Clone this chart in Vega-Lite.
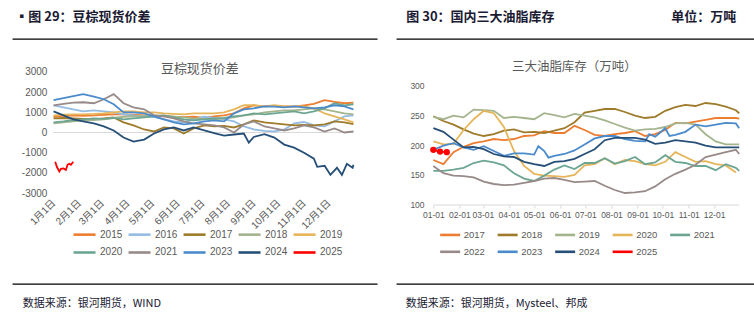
{
"$schema":"https://vega.github.io/schema/vega-lite/v6.json",
"padding":{"left":11.35,"top":10,"right":0,"bottom":0},
"bounds":"flush",
"spacing":19,
"resolve":{"scale":{"color":"independent","x":"independent","y":"independent"},"legend":{"color":"independent"}},
"config":{"font":"Liberation Sans, Noto Sans CJK SC","axis":{"grid":false,"labelOverlap":false}},
"datasets":{
"left":[
{"s":"2015","t":"2023-01-01","v":780},{"s":"2015","t":"2023-01-13","v":820},{"s":"2015","t":"2023-01-25","v":850},{"s":"2015","t":"2023-02-06","v":830},{"s":"2015","t":"2023-02-19","v":850},{"s":"2015","t":"2023-03-03","v":880},{"s":"2015","t":"2023-03-15","v":900},{"s":"2015","t":"2023-03-27","v":900},{"s":"2015","t":"2023-04-08","v":880},{"s":"2015","t":"2023-04-21","v":850},{"s":"2015","t":"2023-05-03","v":820},{"s":"2015","t":"2023-05-15","v":800},{"s":"2015","t":"2023-05-27","v":780},{"s":"2015","t":"2023-06-08","v":760},{"s":"2015","t":"2023-06-20","v":780},{"s":"2015","t":"2023-07-03","v":720},{"s":"2015","t":"2023-07-15","v":800},{"s":"2015","t":"2023-07-27","v":850},{"s":"2015","t":"2023-08-08","v":950},{"s":"2015","t":"2023-08-20","v":1200},{"s":"2015","t":"2023-09-01","v":1350},{"s":"2015","t":"2023-09-14","v":1300},{"s":"2015","t":"2023-09-26","v":1320},{"s":"2015","t":"2023-10-08","v":1300},{"s":"2015","t":"2023-10-20","v":1280},{"s":"2015","t":"2023-11-01","v":1350},{"s":"2015","t":"2023-11-13","v":1420},{"s":"2015","t":"2023-11-26","v":1600},{"s":"2015","t":"2023-12-08","v":1520},{"s":"2015","t":"2023-12-20","v":1450},{"s":"2015","t":"2023-12-31","v":1480},
{"s":"2016","t":"2023-01-01","v":1350},{"s":"2016","t":"2023-01-13","v":1250},{"s":"2016","t":"2023-01-25","v":1150},{"s":"2016","t":"2023-02-06","v":1050},{"s":"2016","t":"2023-02-19","v":1100},{"s":"2016","t":"2023-03-03","v":1050},{"s":"2016","t":"2023-03-15","v":1000},{"s":"2016","t":"2023-03-27","v":900},{"s":"2016","t":"2023-04-08","v":850},{"s":"2016","t":"2023-04-21","v":800},{"s":"2016","t":"2023-05-03","v":780},{"s":"2016","t":"2023-05-15","v":650},{"s":"2016","t":"2023-05-27","v":550},{"s":"2016","t":"2023-06-08","v":500},{"s":"2016","t":"2023-06-20","v":650},{"s":"2016","t":"2023-07-03","v":780},{"s":"2016","t":"2023-07-15","v":720},{"s":"2016","t":"2023-07-27","v":650},{"s":"2016","t":"2023-08-08","v":550},{"s":"2016","t":"2023-08-20","v":300},{"s":"2016","t":"2023-09-01","v":150},{"s":"2016","t":"2023-09-14","v":80},{"s":"2016","t":"2023-09-26","v":50},{"s":"2016","t":"2023-10-08","v":150},{"s":"2016","t":"2023-10-20","v":450},{"s":"2016","t":"2023-11-01","v":520},{"s":"2016","t":"2023-11-13","v":350},{"s":"2016","t":"2023-11-26","v":300},{"s":"2016","t":"2023-12-08","v":550},{"s":"2016","t":"2023-12-20","v":800},{"s":"2016","t":"2023-12-31","v":850},
{"s":"2017","t":"2023-01-01","v":700},{"s":"2017","t":"2023-01-13","v":720},{"s":"2017","t":"2023-01-25","v":700},{"s":"2017","t":"2023-02-06","v":680},{"s":"2017","t":"2023-02-19","v":650},{"s":"2017","t":"2023-03-03","v":700},{"s":"2017","t":"2023-03-15","v":750},{"s":"2017","t":"2023-03-27","v":500},{"s":"2017","t":"2023-04-08","v":350},{"s":"2017","t":"2023-04-21","v":150},{"s":"2017","t":"2023-05-03","v":50},{"s":"2017","t":"2023-05-15","v":250},{"s":"2017","t":"2023-05-27","v":200},{"s":"2017","t":"2023-06-08","v":-50},{"s":"2017","t":"2023-06-20","v":200},{"s":"2017","t":"2023-07-03","v":350},{"s":"2017","t":"2023-07-15","v":300},{"s":"2017","t":"2023-07-27","v":330},{"s":"2017","t":"2023-08-08","v":250},{"s":"2017","t":"2023-08-20","v":400},{"s":"2017","t":"2023-09-01","v":600},{"s":"2017","t":"2023-09-14","v":500},{"s":"2017","t":"2023-09-26","v":450},{"s":"2017","t":"2023-10-08","v":400},{"s":"2017","t":"2023-10-20","v":350},{"s":"2017","t":"2023-11-01","v":380},{"s":"2017","t":"2023-11-13","v":350},{"s":"2017","t":"2023-11-26","v":400},{"s":"2017","t":"2023-12-08","v":550},{"s":"2017","t":"2023-12-20","v":500},{"s":"2017","t":"2023-12-31","v":420},
{"s":"2018","t":"2023-01-01","v":450},{"s":"2018","t":"2023-01-13","v":500},{"s":"2018","t":"2023-01-25","v":550},{"s":"2018","t":"2023-02-06","v":600},{"s":"2018","t":"2023-02-19","v":620},{"s":"2018","t":"2023-03-03","v":650},{"s":"2018","t":"2023-03-15","v":720},{"s":"2018","t":"2023-03-27","v":780},{"s":"2018","t":"2023-04-08","v":800},{"s":"2018","t":"2023-04-21","v":820},{"s":"2018","t":"2023-05-03","v":850},{"s":"2018","t":"2023-05-15","v":830},{"s":"2018","t":"2023-05-27","v":780},{"s":"2018","t":"2023-06-08","v":750},{"s":"2018","t":"2023-06-20","v":700},{"s":"2018","t":"2023-07-03","v":680},{"s":"2018","t":"2023-07-15","v":650},{"s":"2018","t":"2023-07-27","v":700},{"s":"2018","t":"2023-08-08","v":750},{"s":"2018","t":"2023-08-20","v":850},{"s":"2018","t":"2023-09-01","v":900},{"s":"2018","t":"2023-09-14","v":1000},{"s":"2018","t":"2023-09-26","v":1050},{"s":"2018","t":"2023-10-08","v":1100},{"s":"2018","t":"2023-10-20","v":1100},{"s":"2018","t":"2023-11-01","v":1150},{"s":"2018","t":"2023-11-13","v":1200},{"s":"2018","t":"2023-11-26","v":1150},{"s":"2018","t":"2023-12-08","v":1050},{"s":"2018","t":"2023-12-20","v":950},{"s":"2018","t":"2023-12-31","v":900},
{"s":"2019","t":"2023-01-01","v":850},{"s":"2019","t":"2023-01-13","v":880},{"s":"2019","t":"2023-01-25","v":900},{"s":"2019","t":"2023-02-06","v":900},{"s":"2019","t":"2023-02-19","v":920},{"s":"2019","t":"2023-03-03","v":950},{"s":"2019","t":"2023-03-15","v":1000},{"s":"2019","t":"2023-03-27","v":1050},{"s":"2019","t":"2023-04-08","v":1050},{"s":"2019","t":"2023-04-21","v":1000},{"s":"2019","t":"2023-05-03","v":1000},{"s":"2019","t":"2023-05-15","v":950},{"s":"2019","t":"2023-05-27","v":920},{"s":"2019","t":"2023-06-08","v":900},{"s":"2019","t":"2023-06-20","v":950},{"s":"2019","t":"2023-07-03","v":950},{"s":"2019","t":"2023-07-15","v":950},{"s":"2019","t":"2023-07-27","v":1000},{"s":"2019","t":"2023-08-08","v":1150},{"s":"2019","t":"2023-08-20","v":1350},{"s":"2019","t":"2023-09-01","v":1350},{"s":"2019","t":"2023-09-14","v":1300},{"s":"2019","t":"2023-09-26","v":1350},{"s":"2019","t":"2023-10-08","v":1300},{"s":"2019","t":"2023-10-20","v":1300},{"s":"2019","t":"2023-11-01","v":1300},{"s":"2019","t":"2023-11-13","v":1200},{"s":"2019","t":"2023-11-26","v":950},{"s":"2019","t":"2023-12-08","v":800},{"s":"2019","t":"2023-12-20","v":650},{"s":"2019","t":"2023-12-31","v":500},
{"s":"2020","t":"2023-01-01","v":500},{"s":"2020","t":"2023-01-13","v":550},{"s":"2020","t":"2023-01-25","v":620},{"s":"2020","t":"2023-02-06","v":650},{"s":"2020","t":"2023-02-19","v":700},{"s":"2020","t":"2023-03-03","v":680},{"s":"2020","t":"2023-03-15","v":720},{"s":"2020","t":"2023-03-27","v":650},{"s":"2020","t":"2023-04-08","v":700},{"s":"2020","t":"2023-04-21","v":750},{"s":"2020","t":"2023-05-03","v":800},{"s":"2020","t":"2023-05-15","v":850},{"s":"2020","t":"2023-05-27","v":750},{"s":"2020","t":"2023-06-08","v":650},{"s":"2020","t":"2023-06-20","v":600},{"s":"2020","t":"2023-07-03","v":650},{"s":"2020","t":"2023-07-15","v":700},{"s":"2020","t":"2023-07-27","v":720},{"s":"2020","t":"2023-08-08","v":800},{"s":"2020","t":"2023-08-20","v":850},{"s":"2020","t":"2023-09-01","v":950},{"s":"2020","t":"2023-09-14","v":900},{"s":"2020","t":"2023-09-26","v":950},{"s":"2020","t":"2023-10-08","v":1000},{"s":"2020","t":"2023-10-20","v":1050},{"s":"2020","t":"2023-11-01","v":950},{"s":"2020","t":"2023-11-13","v":1050},{"s":"2020","t":"2023-11-26","v":1200},{"s":"2020","t":"2023-12-08","v":1450},{"s":"2020","t":"2023-12-20","v":1350},{"s":"2020","t":"2023-12-31","v":1400},
{"s":"2021","t":"2023-01-01","v":1350},{"s":"2021","t":"2023-01-13","v":1420},{"s":"2021","t":"2023-01-25","v":1480},{"s":"2021","t":"2023-02-06","v":1500},{"s":"2021","t":"2023-02-19","v":1450},{"s":"2021","t":"2023-03-03","v":1650},{"s":"2021","t":"2023-03-15","v":1900},{"s":"2021","t":"2023-03-27","v":1450},{"s":"2021","t":"2023-04-08","v":1250},{"s":"2021","t":"2023-04-21","v":1150},{"s":"2021","t":"2023-05-03","v":850},{"s":"2021","t":"2023-05-15","v":800},{"s":"2021","t":"2023-05-27","v":700},{"s":"2021","t":"2023-06-08","v":550},{"s":"2021","t":"2023-06-20","v":450},{"s":"2021","t":"2023-07-03","v":400},{"s":"2021","t":"2023-07-15","v":350},{"s":"2021","t":"2023-07-27","v":250},{"s":"2021","t":"2023-08-08","v":0},{"s":"2021","t":"2023-08-20","v":400},{"s":"2021","t":"2023-09-01","v":550},{"s":"2021","t":"2023-09-14","v":300},{"s":"2021","t":"2023-09-26","v":200},{"s":"2021","t":"2023-10-08","v":100},{"s":"2021","t":"2023-10-20","v":200},{"s":"2021","t":"2023-11-01","v":350},{"s":"2021","t":"2023-11-13","v":250},{"s":"2021","t":"2023-11-26","v":50},{"s":"2021","t":"2023-12-08","v":200},{"s":"2021","t":"2023-12-20","v":0},{"s":"2021","t":"2023-12-31","v":50},
{"s":"2023","t":"2023-01-01","v":1600},{"s":"2023","t":"2023-01-13","v":1700},{"s":"2023","t":"2023-01-25","v":1800},{"s":"2023","t":"2023-02-06","v":1900},{"s":"2023","t":"2023-02-19","v":1780},{"s":"2023","t":"2023-03-03","v":1650},{"s":"2023","t":"2023-03-15","v":1400},{"s":"2023","t":"2023-03-27","v":1000},{"s":"2023","t":"2023-04-08","v":1000},{"s":"2023","t":"2023-04-21","v":950},{"s":"2023","t":"2023-05-03","v":800},{"s":"2023","t":"2023-05-15","v":650},{"s":"2023","t":"2023-05-27","v":500},{"s":"2023","t":"2023-06-08","v":400},{"s":"2023","t":"2023-06-20","v":450},{"s":"2023","t":"2023-07-03","v":550},{"s":"2023","t":"2023-07-15","v":600},{"s":"2023","t":"2023-07-27","v":550},{"s":"2023","t":"2023-08-08","v":950},{"s":"2023","t":"2023-08-20","v":1150},{"s":"2023","t":"2023-09-01","v":1200},{"s":"2023","t":"2023-09-14","v":1300},{"s":"2023","t":"2023-09-26","v":1280},{"s":"2023","t":"2023-10-08","v":1250},{"s":"2023","t":"2023-10-20","v":1300},{"s":"2023","t":"2023-11-01","v":1250},{"s":"2023","t":"2023-11-13","v":1200},{"s":"2023","t":"2023-11-26","v":1250},{"s":"2023","t":"2023-12-08","v":1350},{"s":"2023","t":"2023-12-20","v":1300},{"s":"2023","t":"2023-12-31","v":1150},
{"s":"2024","t":"2023-01-01","v":1050},{"s":"2024","t":"2023-01-13","v":850},{"s":"2024","t":"2023-01-25","v":650},{"s":"2024","t":"2023-02-06","v":550},{"s":"2024","t":"2023-02-19","v":450},{"s":"2024","t":"2023-03-03","v":300},{"s":"2024","t":"2023-03-15","v":100},{"s":"2024","t":"2023-03-27","v":-250},{"s":"2024","t":"2023-04-08","v":-450},{"s":"2024","t":"2023-04-21","v":-350},{"s":"2024","t":"2023-05-03","v":-50},{"s":"2024","t":"2023-05-15","v":150},{"s":"2024","t":"2023-05-27","v":250},{"s":"2024","t":"2023-06-08","v":100},{"s":"2024","t":"2023-06-20","v":250},{"s":"2024","t":"2023-07-03","v":100},{"s":"2024","t":"2023-07-15","v":-30},{"s":"2024","t":"2023-07-27","v":-150},{"s":"2024","t":"2023-08-08","v":-100},{"s":"2024","t":"2023-08-20","v":-50},{"s":"2024","t":"2023-08-26","v":-500},{"s":"2024","t":"2023-09-01","v":-220},{"s":"2024","t":"2023-09-14","v":-80},{"s":"2024","t":"2023-09-26","v":-250},{"s":"2024","t":"2023-10-08","v":-600},{"s":"2024","t":"2023-10-20","v":-750},{"s":"2024","t":"2023-11-01","v":-1000},{"s":"2024","t":"2023-11-13","v":-1300},{"s":"2024","t":"2023-11-17","v":-1700},{"s":"2024","t":"2023-11-26","v":-1650},{"s":"2024","t":"2023-12-03","v":-2100},{"s":"2024","t":"2023-12-11","v":-1750},{"s":"2024","t":"2023-12-17","v":-2100},{"s":"2024","t":"2023-12-23","v":-1550},{"s":"2024","t":"2023-12-30","v":-1750},{"s":"2024","t":"2023-12-31","v":-1600},
{"s":"2025","t":"2023-01-03","v":-1450},{"s":"2025","t":"2023-01-05","v":-1700},{"s":"2025","t":"2023-01-08","v":-1930},{"s":"2025","t":"2023-01-10","v":-1800},{"s":"2025","t":"2023-01-13","v":-1780},{"s":"2025","t":"2023-01-16","v":-1850},{"s":"2025","t":"2023-01-18","v":-1600},{"s":"2025","t":"2023-01-20","v":-1550},{"s":"2025","t":"2023-01-22","v":-1600},{"s":"2025","t":"2023-01-25","v":-1450}
],
"right":[
{"s":"2017","t":"2023-01-01","v":175},{"s":"2017","t":"2023-01-13","v":168},{"s":"2017","t":"2023-01-25","v":188},{"s":"2017","t":"2023-02-06","v":197},{"s":"2017","t":"2023-02-18","v":203},{"s":"2017","t":"2023-03-02","v":206},{"s":"2017","t":"2023-03-14","v":210},{"s":"2017","t":"2023-03-26","v":208},{"s":"2017","t":"2023-04-07","v":210},{"s":"2017","t":"2023-04-19","v":215},{"s":"2017","t":"2023-05-01","v":216},{"s":"2017","t":"2023-05-13","v":223},{"s":"2017","t":"2023-05-25","v":220},{"s":"2017","t":"2023-06-06","v":220},{"s":"2017","t":"2023-06-18","v":232},{"s":"2017","t":"2023-06-30","v":225},{"s":"2017","t":"2023-07-12","v":217},{"s":"2017","t":"2023-07-24","v":215},{"s":"2017","t":"2023-08-05","v":218},{"s":"2017","t":"2023-08-17","v":220},{"s":"2017","t":"2023-08-29","v":223},{"s":"2017","t":"2023-09-10","v":215},{"s":"2017","t":"2023-09-22","v":218},{"s":"2017","t":"2023-10-04","v":225},{"s":"2017","t":"2023-10-16","v":237},{"s":"2017","t":"2023-10-28","v":236},{"s":"2017","t":"2023-11-09","v":239},{"s":"2017","t":"2023-11-21","v":242},{"s":"2017","t":"2023-12-03","v":245},{"s":"2017","t":"2023-12-15","v":245},{"s":"2017","t":"2023-12-27","v":245},{"s":"2017","t":"2023-12-31","v":244},
{"s":"2018","t":"2023-01-01","v":248},{"s":"2018","t":"2023-01-13","v":240},{"s":"2018","t":"2023-01-25","v":234},{"s":"2018","t":"2023-02-06","v":226},{"s":"2018","t":"2023-02-18","v":219},{"s":"2018","t":"2023-03-02","v":215},{"s":"2018","t":"2023-03-14","v":218},{"s":"2018","t":"2023-03-26","v":224},{"s":"2018","t":"2023-04-07","v":226},{"s":"2018","t":"2023-04-19","v":221},{"s":"2018","t":"2023-05-01","v":222},{"s":"2018","t":"2023-05-13","v":220},{"s":"2018","t":"2023-05-25","v":224},{"s":"2018","t":"2023-06-06","v":228},{"s":"2018","t":"2023-06-18","v":238},{"s":"2018","t":"2023-06-30","v":254},{"s":"2018","t":"2023-07-12","v":257},{"s":"2018","t":"2023-07-24","v":260},{"s":"2018","t":"2023-08-05","v":260},{"s":"2018","t":"2023-08-17","v":255},{"s":"2018","t":"2023-08-29","v":249},{"s":"2018","t":"2023-09-10","v":245},{"s":"2018","t":"2023-09-22","v":247},{"s":"2018","t":"2023-10-04","v":257},{"s":"2018","t":"2023-10-16","v":263},{"s":"2018","t":"2023-10-28","v":267},{"s":"2018","t":"2023-11-09","v":265},{"s":"2018","t":"2023-11-21","v":270},{"s":"2018","t":"2023-12-03","v":268},{"s":"2018","t":"2023-12-15","v":264},{"s":"2018","t":"2023-12-27","v":258},{"s":"2018","t":"2023-12-31","v":253},
{"s":"2019","t":"2023-01-01","v":247},{"s":"2019","t":"2023-01-13","v":243},{"s":"2019","t":"2023-01-25","v":249},{"s":"2019","t":"2023-02-06","v":246},{"s":"2019","t":"2023-02-18","v":259},{"s":"2019","t":"2023-03-02","v":258},{"s":"2019","t":"2023-03-14","v":257},{"s":"2019","t":"2023-03-26","v":245},{"s":"2019","t":"2023-04-07","v":247},{"s":"2019","t":"2023-04-19","v":245},{"s":"2019","t":"2023-05-01","v":243},{"s":"2019","t":"2023-05-13","v":253},{"s":"2019","t":"2023-05-25","v":250},{"s":"2019","t":"2023-06-06","v":246},{"s":"2019","t":"2023-06-18","v":252},{"s":"2019","t":"2023-06-30","v":249},{"s":"2019","t":"2023-07-12","v":246},{"s":"2019","t":"2023-07-24","v":241},{"s":"2019","t":"2023-08-05","v":235},{"s":"2019","t":"2023-08-17","v":229},{"s":"2019","t":"2023-08-29","v":224},{"s":"2019","t":"2023-09-10","v":226},{"s":"2019","t":"2023-09-22","v":227},{"s":"2019","t":"2023-10-04","v":230},{"s":"2019","t":"2023-10-16","v":236},{"s":"2019","t":"2023-10-28","v":237},{"s":"2019","t":"2023-11-09","v":234},{"s":"2019","t":"2023-11-21","v":218},{"s":"2019","t":"2023-12-03","v":206},{"s":"2019","t":"2023-12-15","v":201},{"s":"2019","t":"2023-12-27","v":201},{"s":"2019","t":"2023-12-31","v":201},
{"s":"2020","t":"2023-01-01","v":206},{"s":"2020","t":"2023-01-13","v":201},{"s":"2020","t":"2023-01-25","v":202},{"s":"2020","t":"2023-02-06","v":225},{"s":"2020","t":"2023-02-18","v":243},{"s":"2020","t":"2023-03-02","v":257},{"s":"2020","t":"2023-03-14","v":253},{"s":"2020","t":"2023-03-26","v":230},{"s":"2020","t":"2023-04-07","v":190},{"s":"2020","t":"2023-04-19","v":165},{"s":"2020","t":"2023-05-01","v":152},{"s":"2020","t":"2023-05-13","v":149},{"s":"2020","t":"2023-05-25","v":148},{"s":"2020","t":"2023-06-06","v":147},{"s":"2020","t":"2023-06-18","v":150},{"s":"2020","t":"2023-06-30","v":166},{"s":"2020","t":"2023-07-12","v":168},{"s":"2020","t":"2023-07-24","v":178},{"s":"2020","t":"2023-08-05","v":168},{"s":"2020","t":"2023-08-17","v":175},{"s":"2020","t":"2023-08-29","v":173},{"s":"2020","t":"2023-09-10","v":168},{"s":"2020","t":"2023-09-22","v":166},{"s":"2020","t":"2023-10-04","v":172},{"s":"2020","t":"2023-10-16","v":188},{"s":"2020","t":"2023-10-28","v":180},{"s":"2020","t":"2023-11-09","v":172},{"s":"2020","t":"2023-11-21","v":173},{"s":"2020","t":"2023-12-03","v":168},{"s":"2020","t":"2023-12-15","v":166},{"s":"2020","t":"2023-12-27","v":154},
{"s":"2021","t":"2023-01-01","v":157},{"s":"2021","t":"2023-01-13","v":157},{"s":"2021","t":"2023-01-25","v":159},{"s":"2021","t":"2023-02-06","v":162},{"s":"2021","t":"2023-02-18","v":170},{"s":"2021","t":"2023-03-02","v":174},{"s":"2021","t":"2023-03-14","v":171},{"s":"2021","t":"2023-03-26","v":166},{"s":"2021","t":"2023-04-07","v":153},{"s":"2021","t":"2023-04-19","v":144},{"s":"2021","t":"2023-05-01","v":140},{"s":"2021","t":"2023-05-13","v":149},{"s":"2021","t":"2023-05-25","v":159},{"s":"2021","t":"2023-06-06","v":166},{"s":"2021","t":"2023-06-18","v":160},{"s":"2021","t":"2023-06-30","v":170},{"s":"2021","t":"2023-07-12","v":170},{"s":"2021","t":"2023-07-24","v":178},{"s":"2021","t":"2023-08-05","v":169},{"s":"2021","t":"2023-08-17","v":173},{"s":"2021","t":"2023-08-29","v":180},{"s":"2021","t":"2023-09-10","v":168},{"s":"2021","t":"2023-09-22","v":171},{"s":"2021","t":"2023-10-04","v":183},{"s":"2021","t":"2023-10-16","v":172},{"s":"2021","t":"2023-10-28","v":170},{"s":"2021","t":"2023-11-09","v":165},{"s":"2021","t":"2023-11-21","v":165},{"s":"2021","t":"2023-12-03","v":158},{"s":"2021","t":"2023-12-15","v":168},{"s":"2021","t":"2023-12-27","v":162},{"s":"2021","t":"2023-12-31","v":157},
{"s":"2022","t":"2023-01-01","v":165},{"s":"2022","t":"2023-01-13","v":153},{"s":"2022","t":"2023-01-25","v":149},{"s":"2022","t":"2023-02-06","v":148},{"s":"2022","t":"2023-02-18","v":146},{"s":"2022","t":"2023-03-02","v":139},{"s":"2022","t":"2023-03-14","v":135},{"s":"2022","t":"2023-03-26","v":133},{"s":"2022","t":"2023-04-07","v":134},{"s":"2022","t":"2023-04-19","v":137},{"s":"2022","t":"2023-05-01","v":140},{"s":"2022","t":"2023-05-13","v":144},{"s":"2022","t":"2023-05-25","v":145},{"s":"2022","t":"2023-06-06","v":142},{"s":"2022","t":"2023-06-18","v":138},{"s":"2022","t":"2023-06-30","v":139},{"s":"2022","t":"2023-07-12","v":140},{"s":"2022","t":"2023-07-24","v":132},{"s":"2022","t":"2023-08-05","v":125},{"s":"2022","t":"2023-08-17","v":120},{"s":"2022","t":"2023-08-29","v":121},{"s":"2022","t":"2023-09-10","v":123},{"s":"2022","t":"2023-09-22","v":131},{"s":"2022","t":"2023-10-04","v":143},{"s":"2022","t":"2023-10-16","v":152},{"s":"2022","t":"2023-10-28","v":159},{"s":"2022","t":"2023-11-09","v":167},{"s":"2022","t":"2023-11-21","v":180},{"s":"2022","t":"2023-12-03","v":184},{"s":"2022","t":"2023-12-15","v":188},{"s":"2022","t":"2023-12-27","v":192},{"s":"2022","t":"2023-12-31","v":185},
{"s":"2023","t":"2023-01-01","v":192},{"s":"2023","t":"2023-01-13","v":199},{"s":"2023","t":"2023-01-25","v":203},{"s":"2023","t":"2023-02-06","v":196},{"s":"2023","t":"2023-02-18","v":192},{"s":"2023","t":"2023-03-02","v":198},{"s":"2023","t":"2023-03-14","v":190},{"s":"2023","t":"2023-03-26","v":182},{"s":"2023","t":"2023-04-07","v":186},{"s":"2023","t":"2023-04-19","v":186},{"s":"2023","t":"2023-05-01","v":184},{"s":"2023","t":"2023-05-06","v":198},{"s":"2023","t":"2023-05-13","v":190},{"s":"2023","t":"2023-05-18","v":179},{"s":"2023","t":"2023-05-25","v":182},{"s":"2023","t":"2023-06-06","v":185},{"s":"2023","t":"2023-06-18","v":191},{"s":"2023","t":"2023-06-30","v":201},{"s":"2023","t":"2023-07-12","v":211},{"s":"2023","t":"2023-07-24","v":215},{"s":"2023","t":"2023-08-05","v":215},{"s":"2023","t":"2023-08-17","v":210},{"s":"2023","t":"2023-08-29","v":207},{"s":"2023","t":"2023-09-10","v":206},{"s":"2023","t":"2023-09-15","v":218},{"s":"2023","t":"2023-09-22","v":214},{"s":"2023","t":"2023-10-04","v":228},{"s":"2023","t":"2023-10-09","v":215},{"s":"2023","t":"2023-10-16","v":217},{"s":"2023","t":"2023-10-28","v":222},{"s":"2023","t":"2023-11-09","v":234},{"s":"2023","t":"2023-11-21","v":231},{"s":"2023","t":"2023-12-03","v":234},{"s":"2023","t":"2023-12-15","v":237},{"s":"2023","t":"2023-12-27","v":236},{"s":"2023","t":"2023-12-31","v":228},
{"s":"2024","t":"2023-01-01","v":228},{"s":"2024","t":"2023-01-13","v":222},{"s":"2024","t":"2023-01-25","v":209},{"s":"2024","t":"2023-02-06","v":196},{"s":"2024","t":"2023-02-18","v":197},{"s":"2024","t":"2023-03-02","v":193},{"s":"2024","t":"2023-03-14","v":185},{"s":"2024","t":"2023-03-26","v":181},{"s":"2024","t":"2023-04-07","v":180},{"s":"2024","t":"2023-04-19","v":172},{"s":"2024","t":"2023-05-01","v":168},{"s":"2024","t":"2023-05-13","v":165},{"s":"2024","t":"2023-05-25","v":172},{"s":"2024","t":"2023-06-06","v":173},{"s":"2024","t":"2023-06-18","v":177},{"s":"2024","t":"2023-06-30","v":185},{"s":"2024","t":"2023-07-12","v":193},{"s":"2024","t":"2023-07-24","v":208},{"s":"2024","t":"2023-08-05","v":212},{"s":"2024","t":"2023-08-17","v":212},{"s":"2024","t":"2023-08-29","v":212},{"s":"2024","t":"2023-09-10","v":209},{"s":"2024","t":"2023-09-22","v":202},{"s":"2024","t":"2023-10-04","v":204},{"s":"2024","t":"2023-10-16","v":208},{"s":"2024","t":"2023-10-28","v":206},{"s":"2024","t":"2023-11-09","v":204},{"s":"2024","t":"2023-11-21","v":199},{"s":"2024","t":"2023-12-03","v":196},{"s":"2024","t":"2023-12-15","v":196},{"s":"2024","t":"2023-12-27","v":196},{"s":"2024","t":"2023-12-31","v":196},
{"s":"2025","t":"2023-01-01","v":192},{"s":"2025","t":"2023-01-09","v":189},{"s":"2025","t":"2023-01-17","v":188}
]},
"hconcat":[
{
"width":365,"height":245,
"view":{"stroke":"#000000","strokeWidth":1.3,"strokeDash":[365,245]},
"title":{"text":"▪图 29：豆棕现货价差","anchor":"start","frame":"group","dx":3,"offset":15,"font":"Noto Sans CJK SC","fontSize":13,"fontWeight":"bold","color":"#1a1a33"},
"resolve":{"axis":{"x":"independent"}},
"layer":[
{"data":{"values":[{}]},"mark":{"type":"rule","color":"#D9D9D9","strokeWidth":1},
"encoding":{
"x":{"datum":{"year":2023,"month":1,"date":1,"utc":true},"type":"temporal",
"axis":{"orient":"bottom","values":[{"year":2023,"month":2,"date":1,"utc":true},{"year":2023,"month":4,"date":1,"utc":true},{"year":2023,"month":6,"date":1,"utc":true},{"year":2023,"month":8,"date":1,"utc":true},{"year":2023,"month":10,"date":1,"utc":true},{"year":2023,"month":12,"date":1,"utc":true}],
"format":"%-m月%-d日","labelAngle":-45,"labelAlign":"right","labelBaseline":"middle","labelPadding":8,"labelFontSize":10,"labelColor":"#595959","labelFlush":false,"labelOverlap":false,"ticks":false,"tickSize":0,"domain":false,"grid":false,"offset":-91,"title":null}},
"x2":{"datum":{"year":2023,"month":12,"date":31,"utc":true}},
"y":{"datum":0,"type":"quantitative"}}},
{"data":{"name":"left"},"mark":{"type":"line","strokeWidth":1.8},
"encoding":{
"x":{"field":"t","type":"temporal","scale":{"type":"utc","domain":[{"year":2022,"month":11,"date":12,"utc":true},{"year":2024,"month":1,"date":29,"utc":true}]},
"axis":{"orient":"bottom","values":[{"year":2023,"month":1,"date":1,"utc":true},{"year":2023,"month":3,"date":1,"utc":true},{"year":2023,"month":5,"date":1,"utc":true},{"year":2023,"month":7,"date":1,"utc":true},{"year":2023,"month":9,"date":1,"utc":true},{"year":2023,"month":11,"date":1,"utc":true}],
"format":"%-m月%-d日","labelAngle":-45,"labelAlign":"right","labelBaseline":"middle","labelPadding":8,"labelFontSize":10,"labelColor":"#595959","labelFlush":false,"labelOverlap":false,"ticks":false,"tickSize":0,"domain":false,"grid":false,"offset":-91,
"title":"数据来源：银河期货，WIND","titleX":10,"titleY":111,"titleAlign":"left","titleBaseline":"middle","titleFont":"Noto Sans CJK SC","titleFontSize":11,"titleFontWeight":"normal","titleColor":"#1a1a33"}},
"y":{"field":"v","type":"quantitative","scale":{"domain":[-7512,4636],"nice":false,"zero":false},
"axis":{"values":[-3000,-2000,-1000,0,1000,2000,3000],"labelExpr":"'' + datum.value","labelAlign":"right","labelBaseline":"middle","labelPadding":-34.5,"ticks":false,"tickSize":0,"domain":false,"grid":false,"labelFontSize":10,"labelColor":"#595959",
"title":"豆棕现货价差","titleAngle":0,"titleX":187,"titleY":29,"titleAlign":"center","titleBaseline":"middle","titleFont":"Noto Sans CJK SC","titleFontSize":13,"titleFontWeight":"normal","titleColor":"#595959"}},
"color":{"field":"s","type":"nominal","scale":{"domain":["2015","2016","2017","2018","2019","2020","2021","2023","2024","2025"],"range":["#ED7D31","#95BCE2","#9E7B2A","#A4B48D","#E6B55A","#6CA693","#978A89","#4B8BCB","#264F78","#FF0000"]},
"legend":{"orient":"none","legendX":59.7,"legendY":183,"direction":"horizontal","columns":5,"title":null,"symbolType":"stroke","symbolSize":484,"symbolStrokeWidth":2.6,"labelFontSize":10,"labelColor":"#595959","labelOffset":3,"columnPadding":0,"rowPadding":-3}}
}}
]
},
{
"width":358,"height":245,
"view":{"stroke":"#000000","strokeWidth":1.3,"strokeDash":[358,245]},
"title":{"text":"图 30：国内三大油脂库存　　　　　　　　　单位：万吨","anchor":"start","frame":"group","dx":10,"offset":15,"font":"Noto Sans CJK SC","fontSize":13,"fontWeight":"bold","color":"#1a1a33"},
"resolve":{"axis":{"x":"independent"}},
"layer":[
{"data":{"values":[{}]},"mark":{"type":"rule","color":"#D9D9D9","strokeWidth":1},
"encoding":{
"x":{"datum":{"year":2023,"month":1,"date":1,"utc":true},"type":"temporal",
"axis":{"orient":"bottom","values":[{"year":2023,"month":2,"date":1,"utc":true},{"year":2023,"month":4,"date":1,"utc":true},{"year":2023,"month":6,"date":1,"utc":true},{"year":2023,"month":8,"date":1,"utc":true},{"year":2023,"month":10,"date":1,"utc":true},{"year":2023,"month":12,"date":1,"utc":true}],
"format":"%m-%d","labelAngle":0,"labelAlign":"center","labelBaseline":"top","labelPadding":3,"labelFontSize":8.5,"labelColor":"#595959","labelFlush":false,"labelOverlap":false,"ticks":true,"tickSize":3,"tickColor":"#D9D9D9","domain":false,"grid":false,"offset":-79,"title":null}},
"x2":{"datum":{"year":2023,"month":12,"date":31,"utc":true}},
"y":{"datum":100,"type":"quantitative"}}},
{"data":{"name":"right"},"mark":{"type":"line","strokeWidth":1.8},
"encoding":{
"x":{"field":"t","type":"temporal","scale":{"type":"utc","domain":[{"year":2022,"month":11,"date":18,"utc":true},{"year":2024,"month":1,"date":18,"utc":true}]},
"axis":{"orient":"bottom","values":[{"year":2023,"month":1,"date":1,"utc":true},{"year":2023,"month":3,"date":1,"utc":true},{"year":2023,"month":5,"date":1,"utc":true},{"year":2023,"month":7,"date":1,"utc":true},{"year":2023,"month":9,"date":1,"utc":true},{"year":2023,"month":11,"date":1,"utc":true}],
"format":"%m-%d","labelAngle":0,"labelAlign":"center","labelBaseline":"top","labelPadding":3,"labelFontSize":8.5,"labelColor":"#595959","labelFlush":false,"labelOverlap":false,"ticks":true,"tickSize":3,"tickColor":"#D9D9D9","domain":false,"grid":false,"offset":-79,
"title":"数据来源：银河期货，Mysteel、邦成","titleX":9,"titleY":99,"titleAlign":"left","titleBaseline":"middle","titleFont":"Noto Sans CJK SC","titleFontSize":11,"titleFontWeight":"normal","titleColor":"#1a1a33"}},
"y":{"field":"v","type":"quantitative","scale":{"domain":[-31.7,376.7],"nice":false,"zero":false},
"axis":{"values":[100,150,200,250,300],"labelAlign":"right","labelBaseline":"middle","labelPadding":-27.7,"ticks":false,"tickSize":0,"domain":false,"grid":false,"labelFontSize":8.5,"labelColor":"#595959",
"title":"三大油脂库存（万吨）","titleAngle":0,"titleX":177.5,"titleY":27,"titleAlign":"center","titleBaseline":"middle","titleFont":"Noto Sans CJK SC","titleFontSize":12.5,"titleFontWeight":"normal","titleColor":"#595959"}},
"color":{"field":"s","type":"nominal","scale":{"domain":["2017","2018","2019","2020","2021","2022","2023","2024","2025"],"range":["#ED7D31","#9E7B2A","#A4B48D","#E6B55A","#6CA693","#978A89","#4B8BCB","#264F78","#FF0000"]},
"legend":{"orient":"none","legendX":42.3,"legendY":184.3,"direction":"horizontal","columns":5,"title":null,"symbolType":"stroke","symbolSize":400,"symbolStrokeWidth":2.6,"labelFontSize":9.5,"labelColor":"#595959","labelOffset":2,"columnPadding":6.5,"rowPadding":-0.3}}
}},
{"data":{"name":"right"},"transform":[{"filter":"datum.s == '2025'"}],"mark":{"type":"point","filled":true,"size":40,"opacity":1},
"encoding":{"x":{"field":"t","type":"temporal","axis":null},"y":{"field":"v","type":"quantitative"},"color":{"field":"s","type":"nominal"}}}
]
}
]
}
